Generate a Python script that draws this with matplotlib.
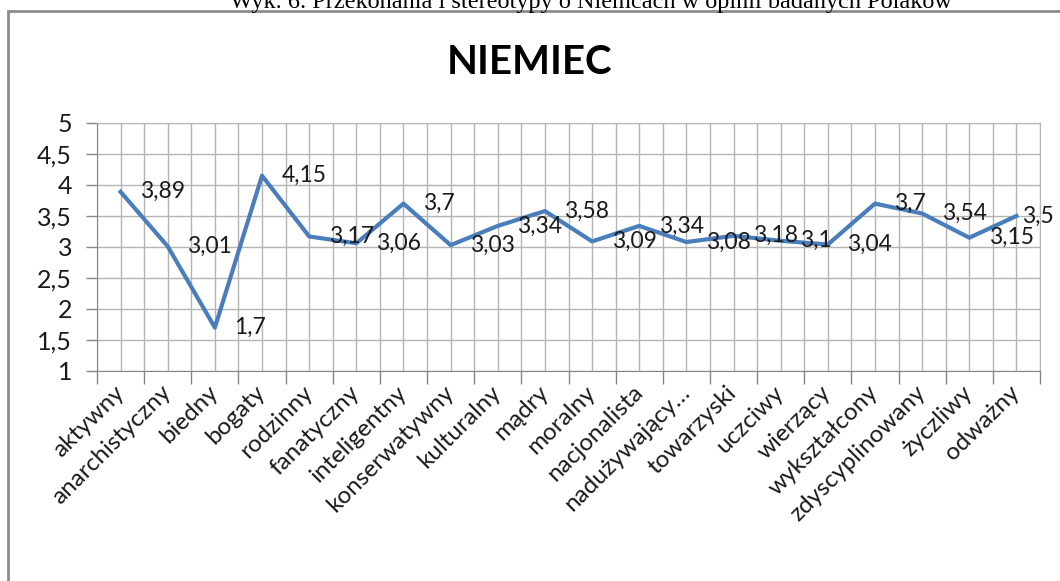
import matplotlib
matplotlib.use('Agg')
import numpy as np
from matplotlib import pyplot as plt
from matplotlib.patches import Rectangle
from matplotlib.ticker import FixedLocator, NullFormatter

categories = ['aktywny', 'anarchistyczny', 'biedny', 'bogaty', 'rodzinny',
              'fanatyczny', 'inteligentny', 'konserwatywny', 'kulturalny',
              'mądry', 'moralny', 'nacjonalista', 'nadużywający…',
              'towarzyski', 'uczciwy', 'wierzący', 'wykształcony',
              'zdyscyplinowany', 'życzliwy', 'odważny']
values = [3.89, 3.01, 1.7, 4.15, 3.17, 3.06, 3.7, 3.03, 3.34, 3.58,
          3.09, 3.34, 3.08, 3.18, 3.1, 3.04, 3.7, 3.54, 3.15, 3.5]
y_ticks = [1, 1.5, 2, 2.5, 3, 3.5, 4, 4.5, 5]

plt.rcParams['font.family'] = ['Lato', 'DejaVu Sans']

fig = plt.figure(figsize=(10.6, 5.81), dpi=100)
W, H = 1060, 581
ax = fig.add_axes([97 / W, 1 - 371 / H, (1040 - 97) / W, (371 - 123) / H])

x = np.arange(len(categories)) + 0.5
ax.plot(x, values, color='#4a7ebb', lw=3.0, solid_joinstyle='round', zorder=3)

for i, (xi, v) in enumerate(zip(x, values)):
    # the last label is pushed left so it stays inside the chart frame
    dx = 4 if i == len(values) - 1 else 14
    ax.annotate(('%g' % v).replace('.', ','), (xi, v), xytext=(dx, 0),
                textcoords='offset points', ha='left', va='center',
                fontsize=16.5, color='#1a1a1a', zorder=4,
                annotation_clip=False)

ax.set_xlim(0, len(categories))
ax.set_ylim(1, 5)

# category boundaries = major ticks, centres = minor ticks with labels
ax.xaxis.set_major_locator(FixedLocator(np.arange(len(categories) + 1)))
ax.xaxis.set_major_formatter(NullFormatter())
ax.xaxis.set_minor_locator(FixedLocator(x))
ax.set_xticks(x, categories, minor=True)
ax.tick_params(axis='x', which='major', length=9, width=1, color='#868686',
               direction='out')
ax.tick_params(axis='x', which='minor', length=0, pad=13, labelsize=17.5,
               labelcolor='#1a1a1a')
for lab in ax.get_xticklabels(minor=True):
    lab.set_rotation(45)
    lab.set_ha('right')
    lab.set_va('center')
    lab.set_rotation_mode('anchor')

ax.set_yticks(y_ticks, [('%g' % t).replace('.', ',') for t in y_ticks])
ax.tick_params(axis='y', length=8, width=1, color='#868686', direction='out',
               labelsize=18, labelcolor='#1a1a1a', pad=10)

ax.grid(True, which='both', axis='x', color='#b4b4b4', lw=1)
ax.grid(True, which='major', axis='y', color='#b4b4b4', lw=1)
ax.set_axisbelow(True)

for s in ['top', 'right']:
    ax.spines[s].set_color('#b4b4b4')
for s in ['left', 'bottom']:
    ax.spines[s].set_color('#868686')

fig.text(0.5, 1 - 62 / H, 'NIEMIEC', ha='center', va='center',
         fontsize=29, fontweight='bold', color='black')

# chart frame (cut by the image edge on the right and bottom)
fig.patches.append(Rectangle((8 / W, -0.1), 1.2, 1.1 - 11 / H,
                             transform=fig.transFigure, fill=False,
                             edgecolor='#8c8c8c', lw=2))
fig.text(230 / W, 1 - 8 / H,
         'Wyk. 6. Przekonania i stereotypy o Niemcach w opinii badanych Polaków',
         ha='left', va='baseline', fontsize=17.5, family='Liberation Serif')

fig.savefig('out.png', dpi=100)
